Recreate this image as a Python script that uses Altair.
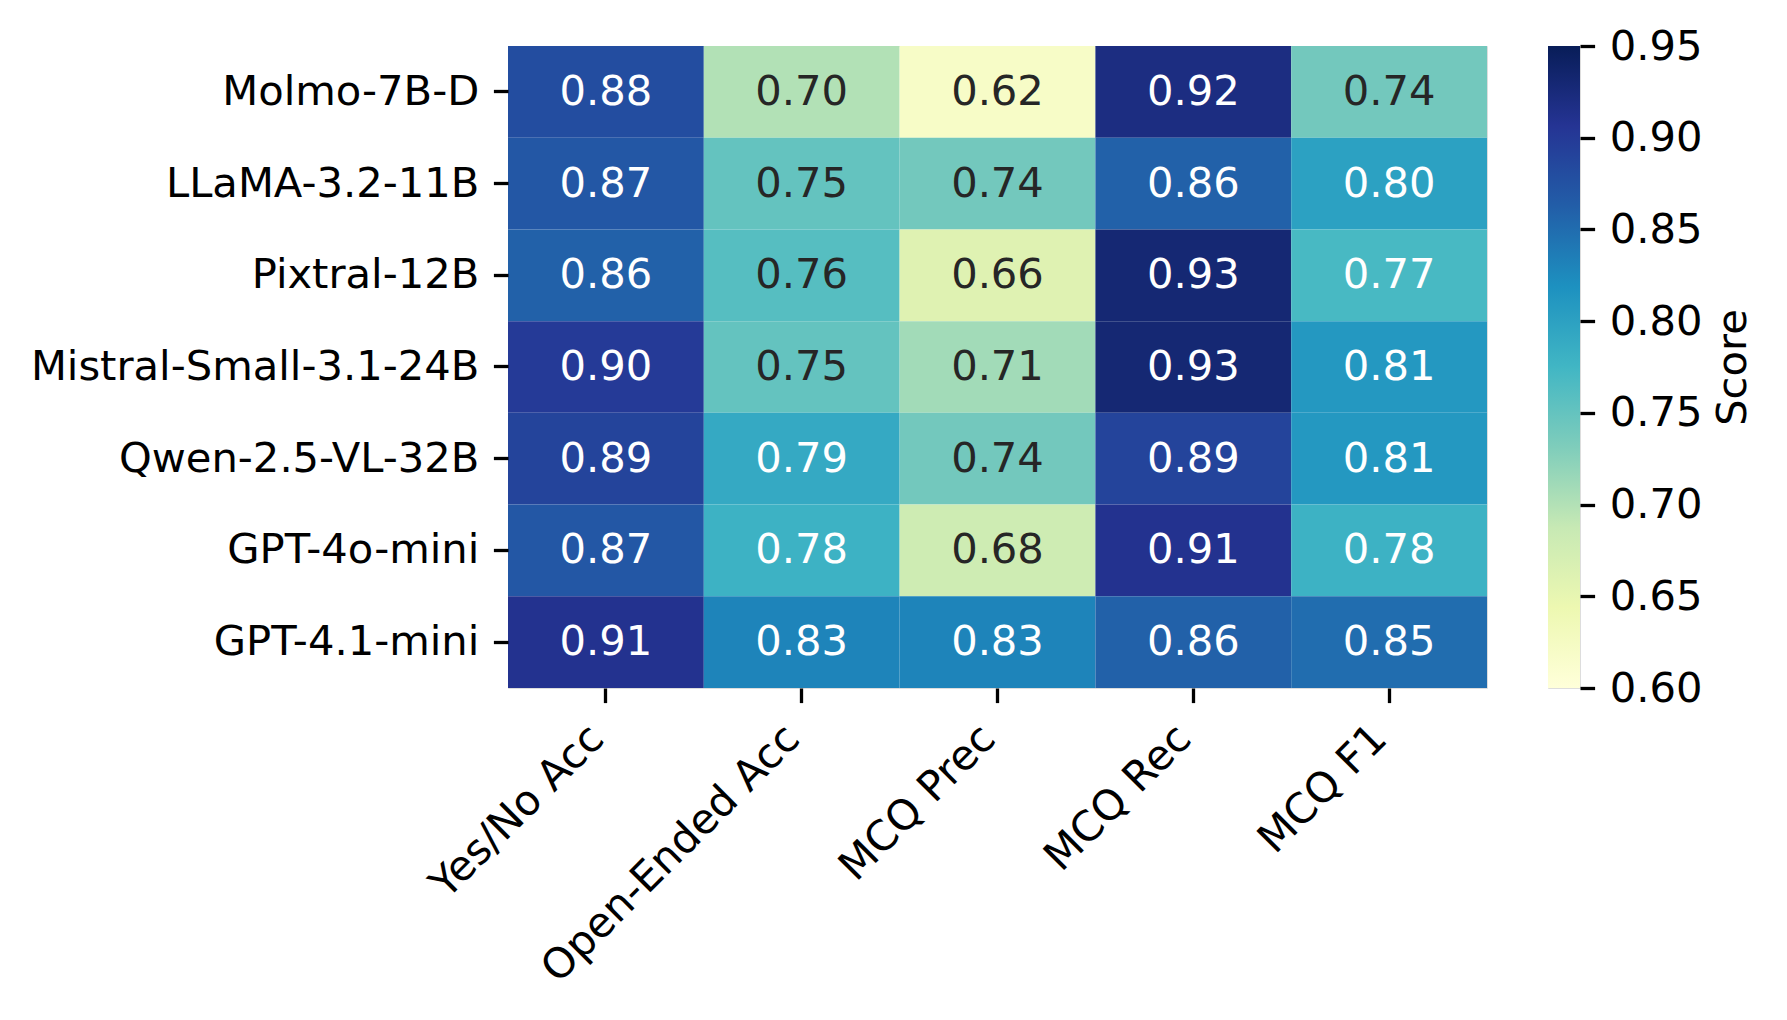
import altair as alt
import pandas as pd

models = ["Molmo-7B-D", "LLaMA-3.2-11B", "Pixtral-12B", "Mistral-Small-3.1-24B",
          "Qwen-2.5-VL-32B", "GPT-4o-mini", "GPT-4.1-mini"]
metrics = ["Yes/No Acc", "Open-Ended Acc", "MCQ Prec", "MCQ Rec", "MCQ F1"]
yesno = [0.88, 0.87, 0.86, 0.90, 0.89, 0.87, 0.91]
open_ended = [0.70, 0.75, 0.76, 0.75, 0.79, 0.78, 0.83]
mcq_prec = [0.62, 0.74, 0.66, 0.71, 0.74, 0.68, 0.83]
mcq_rec = [0.92, 0.86, 0.93, 0.93, 0.89, 0.91, 0.86]
mcq_f1 = [0.74, 0.80, 0.77, 0.81, 0.81, 0.78, 0.85]
colorbar_ticks = [0.60, 0.65, 0.70, 0.75, 0.80, 0.85, 0.90, 0.95]
vmin, vmax = 0.60, 0.95

cols = [yesno, open_ended, mcq_prec, mcq_rec, mcq_f1]
rows = []
for j, m in enumerate(metrics):
    for i, mod in enumerate(models):
        rows.append({"model": mod, "metric": m, "score": cols[j][i]})
df = pd.DataFrame(rows)
df_cb = pd.DataFrame([{"lo": vmin, "hi": vmax}])

ylgnbu = ["#ffffd9", "#edf8b1", "#c7e9b4", "#7fcdbb", "#41b6c4",
          "#1d91c0", "#225ea8", "#253494", "#081d58"]
stops = [vmin + (vmax - vmin) * k / 8 for k in range(9)]

FS = 41.67
FONT = "DejaVu Sans"

x = alt.X("metric:N", sort=metrics, title=None,
          scale=alt.Scale(paddingInner=0, paddingOuter=0),
          axis=alt.Axis(labelAngle=-45, labelAlign="right", labelBaseline="alphabetic",
                        labelFontSize=FS, labelFont=FONT, labelColor="black",
                        tickSize=14.6, tickWidth=3.3, tickColor="black",
                        labelPadding=38, domain=False, labelLimit=0))
y = alt.Y("model:N", sort=models, title=None,
          scale=alt.Scale(paddingInner=0, paddingOuter=0),
          axis=alt.Axis(labelFontSize=FS, labelFont=FONT, labelColor="black",
                        tickSize=14.6, tickWidth=3.3, tickColor="black",
                        labelPadding=14.6, domain=False, labelLimit=0))

color_scale = alt.Scale(domain=stops, range=ylgnbu, interpolate="rgb", clamp=True)

base = alt.Chart(df)
rect = base.mark_rect().encode(
    x=x, y=y,
    color=alt.Color("score:Q", scale=color_scale, legend=None),
)
text = base.mark_text(font=FONT, fontSize=FS, baseline="middle", align="center").encode(
    x=alt.X("metric:N", sort=metrics),
    y=alt.Y("model:N", sort=models),
    text=alt.Text("score:Q", format=".2f"),
    color=alt.condition("datum.score >= 0.765", alt.value("white"), alt.value("#262626")),
)
heat = (rect + text).properties(width=979, height=642)

grad = alt.Gradient(
    gradient="linear", x1=0, y1=1, x2=0, y2=0,
    stops=[alt.GradientStop(offset=k / 8, color=c) for k, c in enumerate(ylgnbu)],
)
cbar = alt.Chart(df_cb).mark_rect(fill=grad).encode(
    x=alt.value(0), x2=alt.value(32),
    y=alt.Y("lo:Q", scale=alt.Scale(domain=[vmin, vmax], nice=False, zero=False),
            axis=alt.Axis(orient="right", values=colorbar_ticks, format=".2f",
                          labelFontSize=FS, labelFont=FONT, labelColor="black",
                          tickSize=14.6, tickWidth=3.3, tickColor="black",
                          labelPadding=14.6, domain=False, grid=False, labelFlush=False,
                          labelOverlap=False,
                          title="Score", titleFontSize=FS, titleFont=FONT,
                          titleColor="black", titleFontWeight="normal",
                          titleAngle=270, titleBaseline="top", titlePadding=11)),
    y2="hi:Q",
).properties(width=32, height=642)

chart = alt.hconcat(heat, cbar, spacing=61, bounds="flush").properties(
    padding={"left": 21, "top": 17, "right": 5, "bottom": 5},
).configure_view(stroke=None).configure(background="white")

chart.save("out.html", embed_options={"renderer": "svg", "actions": False})
